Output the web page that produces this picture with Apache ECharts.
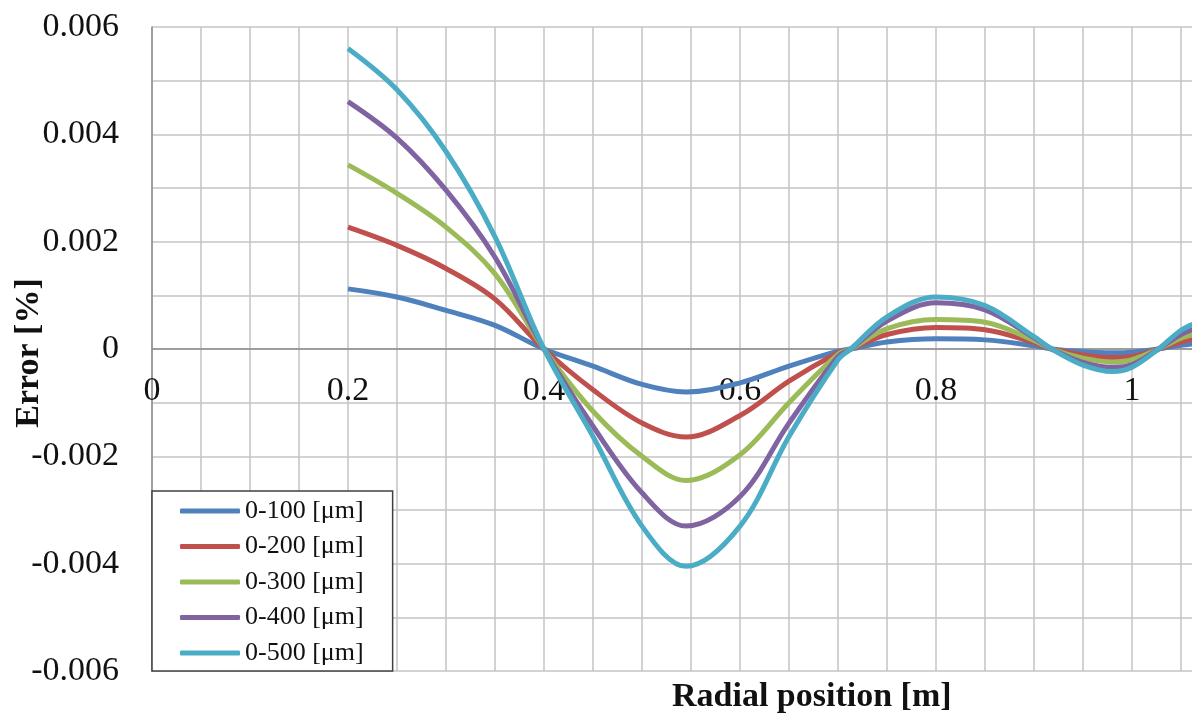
<!DOCTYPE html>
<html>
<head>
<meta charset="utf-8">
<script src="https://cdn.jsdelivr.net/npm/echarts@6/dist/echarts.min.js"></script>
<style>
  html, body { margin: 0; padding: 0; background: #fff; }
  #chart { width: 1192px; height: 722px; }
</style>
</head>
<body>
<div id="chart"></div>
<script>
// radial positions [m]
const radialPos = [0.2, 0.25, 0.3, 0.35, 0.4, 0.45, 0.5, 0.545, 0.6, 0.65, 0.7, 0.713,
  0.75, 0.8, 0.85, 0.9, 0.918, 0.95, 0.98, 1.0, 1.027, 1.05, 1.065]

const seriesNames = ['0-100 [μm]', '0-200 [μm]', '0-300 [μm]', '0-400 [μm]', '0-500 [μm]']
const seriesColors = ['#4F81BD', '#C0504D', '#9BBB59', '#8064A2', '#4BACC6']

// error [%]
const err100 = [0.00112, 0.00097, 0.00072, 0.00044, 0, -0.00032, -0.00066, -0.0008, -0.00063, -0.00032, -0.00004, 0,
  0.00013, 0.00019, 0.00017, 0.00006, 0, -0.00005, -0.00007, -0.00006, 0, 0.00007, 0.0001]
const err200 = [0.00227, 0.00193, 0.0015, 0.00093, 0, -0.00076, -0.00138, -0.00164, -0.00124, -0.0006, -0.00007, 0,
  0.00027, 0.0004, 0.00036, 0.00012, 0, -0.00011, -0.00016, -0.00014, 0, 0.00013, 0.00019]
const err300 = [0.00343, 0.0029, 0.00227, 0.0014, 0, -0.00116, -0.002, -0.00245, -0.00197, -0.001, -0.0001, 0,
  0.00038, 0.00055, 0.0005, 0.00016, 0, -0.00017, -0.00024, -0.0002, 0, 0.0002, 0.00028]
const err400 = [0.00461, 0.00393, 0.00296, 0.00171, 0, -0.00144, -0.00268, -0.0033, -0.00275, -0.00138, -0.00014, 0,
  0.00052, 0.00086, 0.00073, 0.00021, 0, -0.00025, -0.00034, -0.00029, 0, 0.00027, 0.00038]
const err500 = [0.0056, 0.00483, 0.00368, 0.00209, 0, -0.00163, -0.0033, -0.00405, -0.0033, -0.00163, -0.0002, 0,
  0.0006, 0.00097, 0.00081, 0.00023, 0, -0.0003, -0.00042, -0.00034, 0, 0.00035, 0.00048]

const allErrors = [err100, err200, err300, err400, err500]

const FONT = "'Liberation Serif', 'Times New Roman', serif"

const chart = echarts.init(document.getElementById('chart'))

const option = {
  animation: false,
  backgroundColor: '#fff',
  grid: {
    left: 152,
    top: 27,
    width: 1176,
    height: 644,
    containLabel: false,
    outerBoundsMode: 'none'
  },
  legend: {
    orient: 'vertical',
    left: 152,
    top: 491,
    padding: [7, 29, 5, 28],
    itemWidth: 60,
    itemHeight: 5,
    itemGap: 9.5,
    icon: 'roundRect',
    backgroundColor: '#fff',
    borderColor: '#404040',
    borderWidth: 1.5,
    borderRadius: 0,
    data: seriesNames,
    textStyle: {
      fontFamily: FONT,
      fontSize: 26,
      lineHeight: 26,
      color: '#111'
    }
  },
  xAxis: {
    type: 'value',
    min: 0,
    max: 1.2,
    interval: 0.2,
    offset: -322,
    axisLine: { onZero: false, lineStyle: { color: '#8c8c8c', width: 1.5 } },
    axisTick: { show: false },
    minorTick: { show: false, splitNumber: 4 },
    splitLine: { show: true, lineStyle: { color: '#c4c4c4', width: 1.5 } },
    minorSplitLine: { show: true, lineStyle: { color: '#c4c4c4', width: 1.5 } },
    axisLabel: {
      fontFamily: FONT,
      fontSize: 34,
      color: '#111',
      margin: 25
    }
  },
  yAxis: {
    type: 'value',
    min: -0.006,
    max: 0.006,
    interval: 0.002,
    axisLine: { show: true, lineStyle: { color: '#8c8c8c', width: 1.5 } },
    axisTick: { show: false },
    minorTick: { show: false, splitNumber: 2 },
    splitLine: { show: true, lineStyle: { color: '#c4c4c4', width: 1.5 } },
    minorSplitLine: { show: true, lineStyle: { color: '#c4c4c4', width: 1.5 } },
    axisLabel: {
      fontFamily: FONT,
      fontSize: 34,
      color: '#111',
      margin: 33,
      formatter: v => (Math.abs(v) < 1e-9 ? '0' : v.toFixed(3))
    }
  },
  graphic: [
    {
      type: 'text',
      x: 29,
      y: 353,
      rotation: Math.PI / 2,
      style: {
        text: 'Error [%]',
        x: 0,
        y: 0,
        textAlign: 'center',
        textVerticalAlign: 'middle',
        fontFamily: FONT,
        fontSize: 34,
        fontWeight: 'bold',
        fill: '#111'
      }
    },
    {
      type: 'text',
      left: 672,
      top: 680,
      style: {
        text: 'Radial position [m]',
        x: 0,
        textAlign: 'center',
        fontFamily: FONT,
        fontSize: 34,
        fontWeight: 'bold',
        fill: '#111'
      }
    }
  ],
  series: allErrors.map((vals, i) => ({
    name: seriesNames[i],
    type: 'line',
    smooth: 0.35,
    symbol: 'none',
    clip: true,
    color: seriesColors[i],
    lineStyle: { width: 5, color: seriesColors[i] },
    data: radialPos.map((x, j) => [x, vals[j]])
  }))
}

chart.setOption(option)
</script>
</body>
</html>
